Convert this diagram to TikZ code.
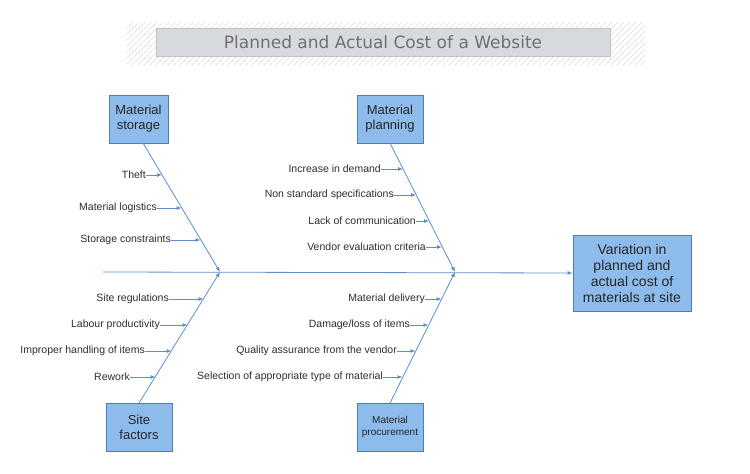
\documentclass[tikz,border=0pt]{standalone}
\usepackage{fontspec}
\setmainfont{Liberation Sans}
\newfontfamily\titlefont{DejaVu Sans}
\usetikzlibrary{arrows.meta,patterns.meta}
\definecolor{boxfill}{RGB}{141,187,236}
\definecolor{boxline}{RGB}{74,126,187}
\definecolor{bone}{RGB}{92,142,204}
\definecolor{titlefill}{RGB}{214,218,222}
\definecolor{titleline}{RGB}{192,196,200}
\definecolor{titletext}{RGB}{112,112,112}
\definecolor{labeltext}{RGB}{45,45,45}
\tikzset{
  catbox/.style={draw=boxline,fill=boxfill,line width=0.8pt,inner sep=0pt,align=center,text=black!85,font=\fontsize{13}{15}\selectfont},
  bonel/.style={draw=bone,line width=0.8pt,-{Latex[length=5pt,width=4pt]}},
  subl/.style={draw=bone,line width=0.8pt,-{Latex[length=5pt,width=4pt]}},
  lbl/.style={anchor=east,inner sep=0pt,text=labeltext,font=\fontsize{10.5}{12}\selectfont},
}
\begin{document}
\begin{tikzpicture}[x=1pt,y=-1pt]
\useasboundingbox (0,0) rectangle (750,474);
% title
\path[pattern={Lines[angle=45,distance=4pt,line width=0.4pt]},pattern color=gray!45] (127,22) rectangle (645,64);
\node[draw=titleline,fill=titlefill,line width=0.8pt,minimum width=454pt,minimum height=28pt,inner sep=0pt,text=titletext,font=\titlefont\fontsize{17}{19}\selectfont] (title) at (383,42) {Planned and Actual Cost of a Website};
% effect
\node[catbox,minimum width=118pt,minimum height=76pt,font=\fontsize{14}{16}\selectfont] (effect) at (632,273) {Variation in\\planned and\\actual cost of\\materials at site};
% categories
\node[catbox,minimum width=59pt,minimum height=48pt] (storage) at (138.5,119) {Material\\storage};
\node[catbox,minimum width=66pt,minimum height=48pt] (planning) at (390,119) {Material\\planning};
\node[catbox,minimum width=66pt,minimum height=48pt] (site) at (139,427) {Site\\factors};
\node[catbox,minimum width=66pt,minimum height=48pt,font=\fontsize{10}{12}\selectfont] (procure) at (390,427) {Material\\procurement};
% spine
\coordinate (tail) at (103,272);
\coordinate (j1) at (220,272);
\coordinate (j2) at (455,272);
\draw[bonel] (tail) -- (effect.west);
% bones
\coordinate (s0) at (143,143);
\coordinate (p0) at (390,143);
\coordinate (f0) at (139,403);
\coordinate (m0) at (390,403);
\draw[bonel] (s0) -- (j1);
\draw[bonel] (p0) -- (j2);
\draw[bonel] (f0) -- (j1);
\draw[bonel] (m0) -- (j2);
% material storage causes
\coordinate (s1) at (162,175);
\coordinate (s2) at (181.5,208);
\coordinate (s3) at (200.5,240);
\node[lbl] (t1) at (146,175) {Theft};
\node[lbl] (t2) at (157,208) {Material logistics};
\node[lbl] (t3) at (171,240) {Storage constraints};
\draw[subl] (t1) -- (s1);
\draw[subl] (t2) -- (s2);
\draw[subl] (t3) -- (s3);
% material planning causes
\coordinate (p1) at (403,169);
\coordinate (p2) at (416,195);
\coordinate (p3) at (429,221);
\coordinate (p4) at (442,247);
\node[lbl] (u1) at (381,169) {Increase in demand};
\node[lbl] (u2) at (394,195) {Non standard specifications};
\node[lbl] (u3) at (416,221) {Lack of communication};
\node[lbl] (u4) at (426,247) {Vendor evaluation criteria};
\draw[subl] (u1) -- (p1);
\draw[subl] (u2) -- (p2);
\draw[subl] (u3) -- (p3);
\draw[subl] (u4) -- (p4);
% site factors causes
\coordinate (f1) at (203.5,299);
\coordinate (f2) at (187.5,325);
\coordinate (f3) at (171.5,351);
\coordinate (f4) at (155.5,377);
\node[lbl] (v1) at (169,299) {Site regulations};
\node[lbl] (v2) at (160,325) {Labour productivity};
\node[lbl] (v3) at (145,351) {Improper handling of items};
\node[lbl] (v4) at (130,377) {Rework};
\draw[subl] (v1) -- (f1);
\draw[subl] (v2) -- (f2);
\draw[subl] (v3) -- (f3);
\draw[subl] (v4) -- (f4);
% material procurement causes
\coordinate (m1) at (441.5,299);
\coordinate (m2) at (428.5,325);
\coordinate (m3) at (415.5,351);
\coordinate (m4) at (402.5,377);
\node[lbl] (w1) at (425,299) {Material delivery};
\node[lbl] (w2) at (410,325) {Damage/loss of items};
\node[lbl] (w3) at (397,351) {Quality assurance from the vendor};
\node[lbl] (w4) at (383,377) {Selection of appropriate type of material};
\draw[subl] (w1) -- (m1);
\draw[subl] (w2) -- (m2);
\draw[subl] (w3) -- (m3);
\draw[subl] (w4) -- (m4);
\end{tikzpicture}
\end{document}
